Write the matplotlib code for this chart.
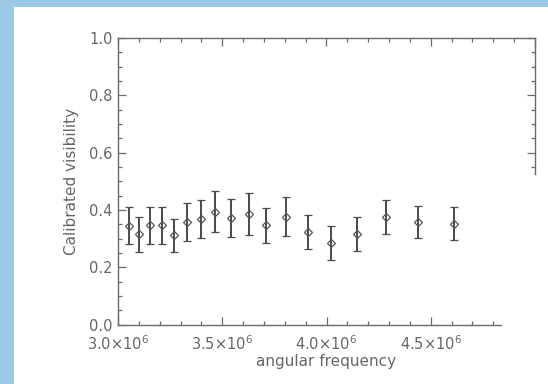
import matplotlib
matplotlib.use("Agg")
import matplotlib.pyplot as plt
from matplotlib.patches import Rectangle
from matplotlib.ticker import FixedLocator, NullFormatter

# Calibrated visibility vs angular frequency
freq = [3.051e6, 3.101e6, 3.152e6, 3.209e6, 3.268e6, 3.330e6, 3.399e6, 3.466e6, 3.543e6,
        3.626e6, 3.711e6, 3.808e6, 3.910e6, 4.022e6, 4.147e6, 4.285e6, 4.440e6, 4.612e6]
vis = [0.345, 0.315, 0.347, 0.347, 0.312, 0.359, 0.368, 0.394, 0.373,
       0.387, 0.346, 0.377, 0.322, 0.286, 0.316, 0.375, 0.358, 0.352]
err = [0.064, 0.062, 0.065, 0.065, 0.058, 0.067, 0.067, 0.071, 0.067,
       0.073, 0.060, 0.067, 0.059, 0.059, 0.058, 0.060, 0.056, 0.057]

xmajor = [3.0e6, 3.5e6, 4.0e6, 4.5e6]
xmajor_labels = [r"3.0$\times$10$^{6}$", r"3.5$\times$10$^{6}$",
                 r"4.0$\times$10$^{6}$", r"4.5$\times$10$^{6}$"]
ymajor = [0.0, 0.2, 0.4, 0.6, 0.8, 1.0]
ymajor_labels = ["0.0", "0.2", "0.4", "0.6", "0.8", "1.0"]

W, H = 548, 384
fig = plt.figure(figsize=(W / 100, H / 100), dpi=100)
fig.patch.set_facecolor("white")

# light blue frame on the left and top edges
blue = "#9dc8e5"
fig.patches.append(Rectangle((0, 0), 14 / W, 1, transform=fig.transFigure,
                             facecolor=blue, edgecolor="none", zorder=0))
fig.patches.append(Rectangle((0, 1 - 7 / H), 1, 7 / H, transform=fig.transFigure,
                             facecolor=blue, edgecolor="none", zorder=0))

axc = "#6a6a6a"
txc = "#666666"
fs = 10.5

left, right = 118 / W, 535 / W
bottom, top = 1 - 324.6 / H, 1 - 38.1 / H
ax = fig.add_axes([left, bottom, right - left, top - bottom])
ax.set_xlim(3.0e6, 5.0e6)
ax.set_ylim(0.0, 1.0)

ax.errorbar(freq, vis, yerr=err, fmt="D", markersize=4.5, markerfacecolor="none",
            markeredgecolor="#555555", markeredgewidth=0.9, ecolor="#4a4a4a",
            elinewidth=1.4, capsize=3, capthick=1.1)

# bottom / left axes
ax.xaxis.set_major_locator(FixedLocator(xmajor))
ax.set_xticklabels(xmajor_labels)
ax.xaxis.set_minor_locator(FixedLocator([3.1e6, 3.2e6, 3.3e6, 3.4e6, 3.6e6, 3.7e6, 3.8e6,
                                         3.9e6, 4.1e6, 4.2e6, 4.3e6, 4.4e6, 4.6e6, 4.7e6, 4.8e6]))
ax.yaxis.set_major_locator(FixedLocator(ymajor))
ax.set_yticklabels(ymajor_labels)
ax.yaxis.set_minor_locator(FixedLocator([v / 20 for v in range(1, 20) if v % 4 != 0]))
ax.tick_params(which="both", direction="in", color=axc, width=0.9,
               top=False, right=False, labelcolor=txc, labelsize=fs)
ax.tick_params(which="major", length=6)
ax.tick_params(which="minor", length=3)
ax.tick_params(axis="y", pad=4)
ax.tick_params(axis="x", pad=7)

for s in ax.spines.values():
    s.set_color(axc)
    s.set_linewidth(1.0)
ax.spines["bottom"].set_bounds(3.0e6, 4.836e6)
ax.spines["right"].set_bounds(0.526, 1.0)

ax.set_xlabel("angular frequency", color=txc, fontsize=11, labelpad=1)
ax.set_ylabel("Calibrated visibility", color=txc, fontsize=11, labelpad=7)

# top ticks
axt = ax.twiny()
axt.set_xlim(ax.get_xlim())
axt.xaxis.set_major_locator(FixedLocator([3.0e6, 3.5e6, 4.0e6, 4.5e6, 5.0e6]))
axt.xaxis.set_minor_locator(FixedLocator([3.0e6 + k * 1e5 for k in range(1, 20) if k % 5 != 0]))
axt.xaxis.set_major_formatter(NullFormatter())
axt.tick_params(which="both", direction="in", color=axc, width=0.9)
axt.tick_params(which="major", length=6)
axt.tick_params(which="minor", length=3)
for s in axt.spines.values():
    s.set_visible(False)

# right ticks, upper part only
axr = ax.twinx()
axr.set_ylim(ax.get_ylim())
axr.yaxis.set_major_locator(FixedLocator([0.6, 0.8, 1.0]))
axr.yaxis.set_minor_locator(FixedLocator([0.55, 0.65, 0.7, 0.75, 0.85, 0.9, 0.95]))
axr.yaxis.set_major_formatter(NullFormatter())
axr.tick_params(which="both", direction="in", color=axc, width=0.9)
axr.tick_params(which="major", length=6)
axr.tick_params(which="minor", length=3)
for s in axr.spines.values():
    s.set_visible(False)

fig.savefig("out.png", dpi=100)
